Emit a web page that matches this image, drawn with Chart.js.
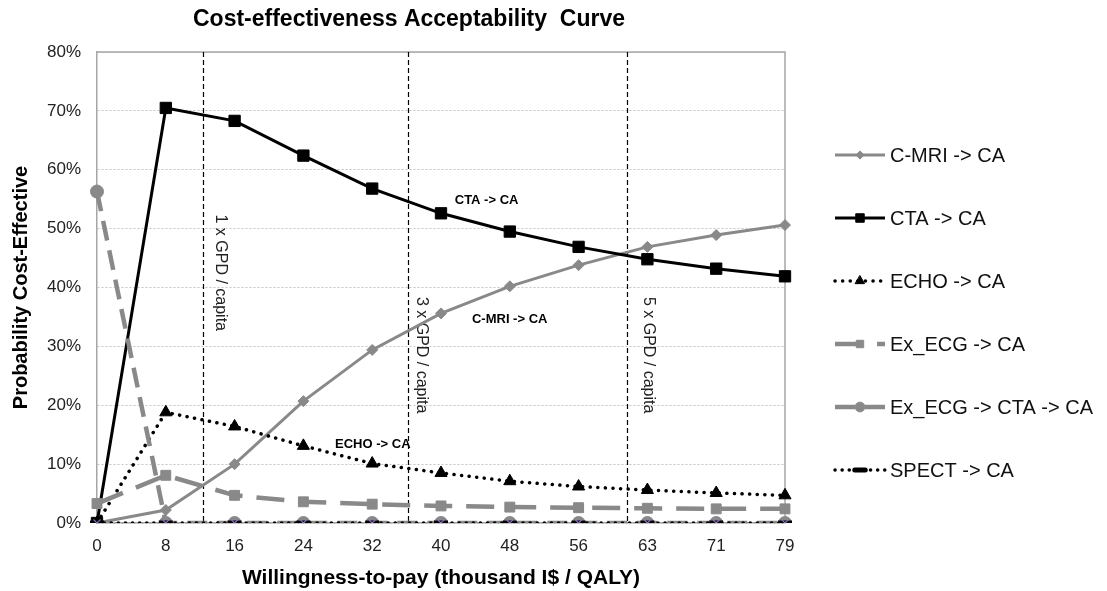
<!DOCTYPE html>
<html>
<head>
<meta charset="utf-8">
<script src="https://cdn.jsdelivr.net/npm/chart.js@4.4.1/dist/chart.umd.min.js"></script>
<style>
  html, body { margin: 0; padding: 0; background: #fff; }
  #wrap { width: 1107px; height: 591px; }
</style>
</head>
<body>
<div id="wrap"><canvas id="ceac" width="1107" height="591"></canvas></div>
<script>
// x categories: willingness-to-pay, thousand I$ / QALY
var wtpLabels = ['0', '8', '16', '24', '32', '40', '48', '56', '63', '71', '79'];

// probability cost-effective (%)
var cmriValues     = [0, 2.2, 10.0, 20.7, 29.4, 35.6, 40.2, 43.8, 46.9, 48.9, 50.6];
var ctaValues      = [0, 70.5, 68.3, 62.4, 56.8, 52.6, 49.5, 46.9, 44.8, 43.2, 41.9];
var echoValues     = [0, 18.8, 16.4, 13.1, 10.1, 8.5, 7.1, 6.2, 5.6, 5.1, 4.7];
var exEcgValues    = [3.3, 8.1, 4.7, 3.6, 3.2, 2.9, 2.7, 2.6, 2.5, 2.4, 2.4];
var exEcgCtaValues = [56.3, 0, 0, 0, 0, 0, 0, 0, 0, 0, 0];
var spectValues    = [0, 0, 0, 0, 0, 0, 0, 0, 0, 0, 0];
var otherValues    = [0, 0, 0, 0, 0, 0, 0, 0, 0, 0, 0];

// GDP per capita thresholds, as position on the category axis
var thresholdIdx      = [1.54, 4.52, 7.70];
var thresholdLabels   = ['1 x GPD / capita', '3 x GPD / capita', '5 x GPD / capita'];
var thresholdLabelIdx = [1.79, 4.72, 8.01];
var thresholdTop      = [52.4, 38.4, 38.4];

// in-plot series labels
var noteTexts = ['CTA -> CA', 'C-MRI -> CA', 'ECHO -> CA'];
var noteIdx   = [5.20, 5.45, 3.46];
var noteVals  = [54.8, 34.5, 13.3];

var FONT = '"Liberation Sans", Arial, sans-serif';
var GREY = '#898989';

var datasets = [
  { label: 'C-MRI -> CA', data: cmriValues, borderColor: GREY, backgroundColor: GREY,
    borderWidth: 3, pointStyle: 'rectRot', pointRadius: 5.5, order: 6 },
  { label: 'CTA -> CA', data: ctaValues, borderColor: '#000', backgroundColor: '#000',
    borderWidth: 3, pointStyle: 'rect', pointRadius: 8, order: 5 },
  { label: 'ECHO -> CA', data: echoValues, borderColor: '#000', backgroundColor: '#000',
    borderWidth: 3.5, borderDash: [0.1, 7.5], borderCapStyle: 'round',
    pointStyle: 'triangle', pointRadius: 7, order: 4 },
  { label: 'Ex_ECG -> CA', data: exEcgValues, borderColor: GREY, backgroundColor: GREY,
    borderWidth: 4.5, borderDash: [28, 14],
    pointStyle: 'rect', pointRadius: 7, order: 3 },
  { label: 'Ex_ECG -> CTA -> CA', data: exEcgCtaValues, borderColor: GREY, backgroundColor: GREY,
    borderWidth: 4.5, borderDash: [20, 10],
    pointStyle: 'circle', pointRadius: 6.5, order: 2 },
  { label: 'SPECT -> CA', data: spectValues, borderColor: '#000', backgroundColor: '#000',
    borderWidth: 3.5, borderDash: [0.1, 7], borderCapStyle: 'round',
    pointStyle: 'line', pointRadius: 7, pointBorderWidth: 5, order: 1 },
  { label: '', data: otherValues, borderColor: 'rgba(0,0,0,0)', backgroundColor: '#8a6fc0',
    pointBorderColor: '#8a6fc0', borderWidth: 0, pointStyle: 'crossRot', pointRadius: 5,
    pointBorderWidth: 1.2, order: 0, noLegend: true }
];
datasets.forEach(function (d) {
  d.fill = false; d.tension = 0;
  if (d.pointBorderColor === undefined) d.pointBorderColor = d.borderColor;
  if (d.pointBorderWidth === undefined) d.pointBorderWidth = 1;
  d.pointHoverRadius = d.pointRadius;
});

//title, frame, threshold lines, notes and legend
var decor = {
  id: 'decor',
  beforeDatasetsDraw: function (chart) {
    var ctx = chart.ctx, a = chart.chartArea;
    var xs = chart.scales.x, ys = chart.scales.y;
    ctx.save();
    ctx.strokeStyle = '#a6a6a6';
    ctx.lineWidth = 1.5;
    ctx.beginPath();
    ctx.moveTo(a.left, a.top); ctx.lineTo(a.right, a.top); ctx.lineTo(a.right, a.bottom);
    ctx.stroke();

    ctx.strokeStyle = '#000';
    ctx.lineWidth = 1.2;
    ctx.setLineDash([5, 3]);
    for (var i = 0; i < thresholdIdx.length; i++) {
      var x = Math.round(xs.getPixelForValue(thresholdIdx[i])) + 0.5;
      ctx.beginPath(); ctx.moveTo(x, a.top); ctx.lineTo(x, a.bottom); ctx.stroke();
    }
    ctx.setLineDash([]);

    ctx.fillStyle = '#222';
    ctx.font = '16px ' + FONT;
    ctx.textAlign = 'left';
    ctx.textBaseline = 'middle';
    for (var j = 0; j < thresholdLabels.length; j++) {
      ctx.save();
      ctx.translate(xs.getPixelForValue(thresholdLabelIdx[j]), ys.getPixelForValue(thresholdTop[j]));
      ctx.rotate(Math.PI / 2);
      ctx.fillText(thresholdLabels[j], 0, 0);
      ctx.restore();
    }
    ctx.restore();
  },
  afterDraw: function (chart) {
    var ctx = chart.ctx;
    var xs = chart.scales.x, ys = chart.scales.y;
    ctx.save();
    ctx.fillStyle = '#000';
    ctx.font = 'bold 23px ' + FONT;
    ctx.textAlign = 'center';
    ctx.textBaseline = 'middle';
    ctx.fillText('Cost-effectiveness Acceptability  Curve', 409, 20);

    ctx.font = 'bold 13px ' + FONT;
    ctx.textAlign = 'left';
    for (var i = 0; i < noteTexts.length; i++) {
      ctx.fillText(noteTexts[i], xs.getPixelForValue(noteIdx[i]), ys.getPixelForValue(noteVals[i]));
    }

    // legend on the right
    var row = 0;
    chart.data.datasets.forEach(function (d) {
      if (d.noLegend) return;
      var y = 155 + row * 63;
      ctx.save();
      ctx.strokeStyle = d.borderColor;
      ctx.lineWidth = d.borderWidth;
      ctx.lineCap = d.borderCapStyle || 'butt';
      ctx.setLineDash(d.borderDash || []);
      ctx.beginPath(); ctx.moveTo(835, y); ctx.lineTo(885, y); ctx.stroke();
      ctx.setLineDash([]);
      ctx.fillStyle = d.backgroundColor;
      ctx.strokeStyle = d.pointBorderColor;
      ctx.lineWidth = d.pointBorderWidth;
      Chart.helpers.drawPoint(ctx, {
        pointStyle: d.pointStyle, radius: d.pointRadius * 0.75, rotation: 0,
        borderWidth: d.pointBorderWidth
      }, 860, y);
      ctx.fillStyle = '#111';
      ctx.font = '20px ' + FONT;
      ctx.textAlign = 'left';
      ctx.textBaseline = 'middle';
      ctx.fillText(d.label, 890, y + 1);
      ctx.restore();
      row++;
    });
    ctx.restore();
  }
};

new Chart(document.getElementById('ceac').getContext('2d'), {
  type: 'line',
  data: { labels: wtpLabels, datasets: datasets },
  options: {
    responsive: false,
    animation: false,
    layout: { padding: { top: 52, right: 322, left: 0, bottom: 0 } },
    plugins: {
      legend: { display: false },
      tooltip: { enabled: false },
      title: { display: false }
    },
    scales: {
      x: {
        type: 'category',
        offset: false,
        afterFit: function (s) { s.height = 68; },
        grid: { display: false, drawTicks: false },
        border: { display: true, color: '#a6a6a6', width: 1.5 },
        ticks: { color: '#222', padding: 13, font: { family: FONT, size: 17 }, maxRotation: 0, autoSkip: false },
        title: {
          display: true, text: 'Willingness-to-pay (thousand I$ / QALY)', color: '#000',
          font: { family: FONT, size: 21, weight: 'bold' }, padding: { top: 0, bottom: 0 }
        }
      },
      y: {
        min: 0, max: 80,
        afterFit: function (s) { s.width = 97; },
        grid: { color: '#c4c4c4', lineWidth: 1, drawTicks: false },
        border: { display: true, color: '#a6a6a6', width: 1.5, dash: [2, 2] },
        ticks: {
          stepSize: 10, color: '#222', padding: 16, font: { family: FONT, size: 17 },
          callback: function (v) { return v + '%'; }
        },
        title: {
          display: true, text: 'Probability Cost-Effective', color: '#000',
          font: { family: FONT, size: 20, weight: 'bold' }, padding: { top: 9, bottom: 0 }
        }
      }
    }
  },
  plugins: [decor]
});
</script>
</body>
</html>
